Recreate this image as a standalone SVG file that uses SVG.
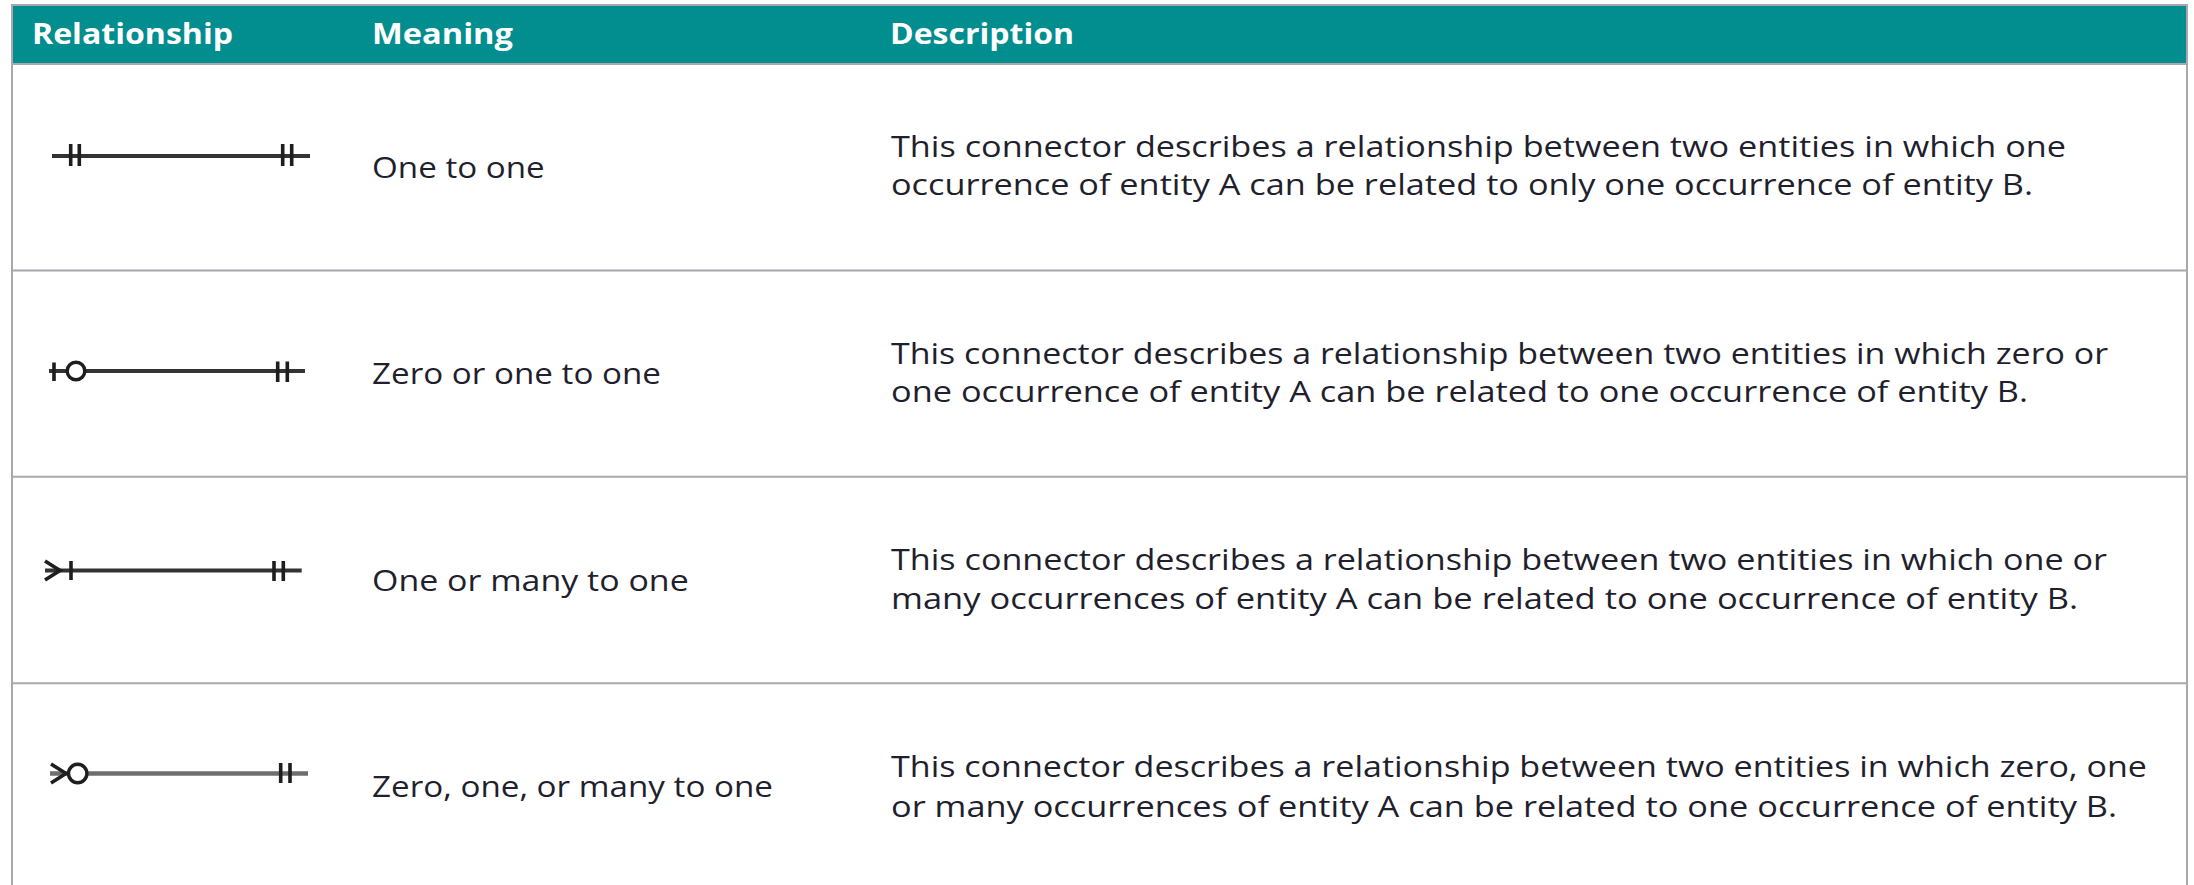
<svg xmlns="http://www.w3.org/2000/svg" width="2194" height="885" viewBox="0 0 2194 885">
<style>
.hdr{font-family:"Open Sans","Liberation Sans",sans-serif;font-weight:700;font-size:28px;fill:#ffffff}
.txt{font-family:"Open Sans","Liberation Sans",sans-serif;font-size:30px;fill:#1f1f2e}
.grid{stroke:#a8a8ae;stroke-width:2;fill:none}
.ln{stroke:#333333;stroke-width:4.2;fill:none;stroke-linecap:butt}
.ln4{stroke:#6e6e6e;stroke-width:4.6;fill:none}
.tk{stroke:#1e1e1e;stroke-width:3.6;fill:none}
.ring{stroke:#1e1e1e;stroke-width:3.4;fill:#ffffff}
</style>
<rect x="0" y="0" width="2194" height="885" fill="#ffffff"/>
<g id="table">
<rect x="12" y="5" width="2175" height="59" fill="#028d8f"/>
<path class="grid" d="M12 885 V5 H2187 V885 M12 64 H2187 M12 270.5 H2187 M12 476.7 H2187 M12 683.3 H2187"/>
</g>
<g id="header">
<text class="hdr" x="32" y="44" textLength="201" lengthAdjust="spacingAndGlyphs">Relationship</text>
<text class="hdr" x="372" y="44" textLength="141" lengthAdjust="spacingAndGlyphs">Meaning</text>
<text class="hdr" x="890" y="44" textLength="184" lengthAdjust="spacingAndGlyphs">Description</text>
</g>
<g id="connectors">
<g id="sym-one-to-one">
<line class="ln" x1="52" y1="156" x2="310" y2="156"/>
<path class="tk" d="M70.7 144 V166 M79.3 144 V166 M282.7 144 V166 M291.7 144 V166"/>
</g>
<g id="sym-zero-or-one-to-one">
<line class="ln" x1="49" y1="371" x2="305" y2="371"/>
<path class="tk" d="M54 362.5 V381 M277.7 361.5 V382 M287.3 361.5 V382"/>
<circle class="ring" cx="76" cy="371" r="8.8"/>
</g>
<g id="sym-one-or-many-to-one">
<line class="ln" x1="45" y1="570.5" x2="301.7" y2="570.5"/>
<path class="tk" d="M45 561 L60 570.5 L45 580 M71 561 V580 M274 561 V581 M283.3 561 V581"/>
</g>
<g id="sym-zero-one-many-to-one">
<line class="ln4" x1="50" y1="773.5" x2="308" y2="773.5"/>
<path class="tk" d="M51 764 L66 773.5 L51 783 M280.7 763 V783 M290 763 V783"/>
<circle class="ring" cx="77.7" cy="773.5" r="9.2"/>
</g>
</g>
<g id="row-1">
<text class="txt" x="372" y="178.3" textLength="172.7" lengthAdjust="spacingAndGlyphs">One to one</text>
<text class="txt" x="891" y="156.7" textLength="1175" lengthAdjust="spacingAndGlyphs">This connector describes a relationship between two entities in which one</text>
<text class="txt" x="891" y="195" textLength="1142" lengthAdjust="spacingAndGlyphs">occurrence of entity A can be related to only one occurrence of entity B.</text>
</g>
<g id="row-2">
<text class="txt" x="372" y="384" textLength="289" lengthAdjust="spacingAndGlyphs">Zero or one to one</text>
<text class="txt" x="891" y="363.5" textLength="1217" lengthAdjust="spacingAndGlyphs">This connector describes a relationship between two entities in which zero or</text>
<text class="txt" x="891" y="402" textLength="1137" lengthAdjust="spacingAndGlyphs">one occurrence of entity A can be related to one occurrence of entity B.</text>
</g>
<g id="row-3">
<text class="txt" x="372" y="590.7" textLength="316.7" lengthAdjust="spacingAndGlyphs">One or many to one</text>
<text class="txt" x="891" y="570" textLength="1216" lengthAdjust="spacingAndGlyphs">This connector describes a relationship between two entities in which one or</text>
<text class="txt" x="891" y="608.5" textLength="1187" lengthAdjust="spacingAndGlyphs">many occurrences of entity A can be related to one occurrence of entity B.</text>
</g>
<g id="row-4">
<text class="txt" x="372" y="797" textLength="401" lengthAdjust="spacingAndGlyphs">Zero, one, or many to one</text>
<text class="txt" x="891" y="777.3" textLength="1256" lengthAdjust="spacingAndGlyphs">This connector describes a relationship between two entities in which zero, one</text>
<text class="txt" x="891" y="816.5" textLength="1226" lengthAdjust="spacingAndGlyphs">or many occurrences of entity A can be related to one occurrence of entity B.</text>
</g>
</svg>
